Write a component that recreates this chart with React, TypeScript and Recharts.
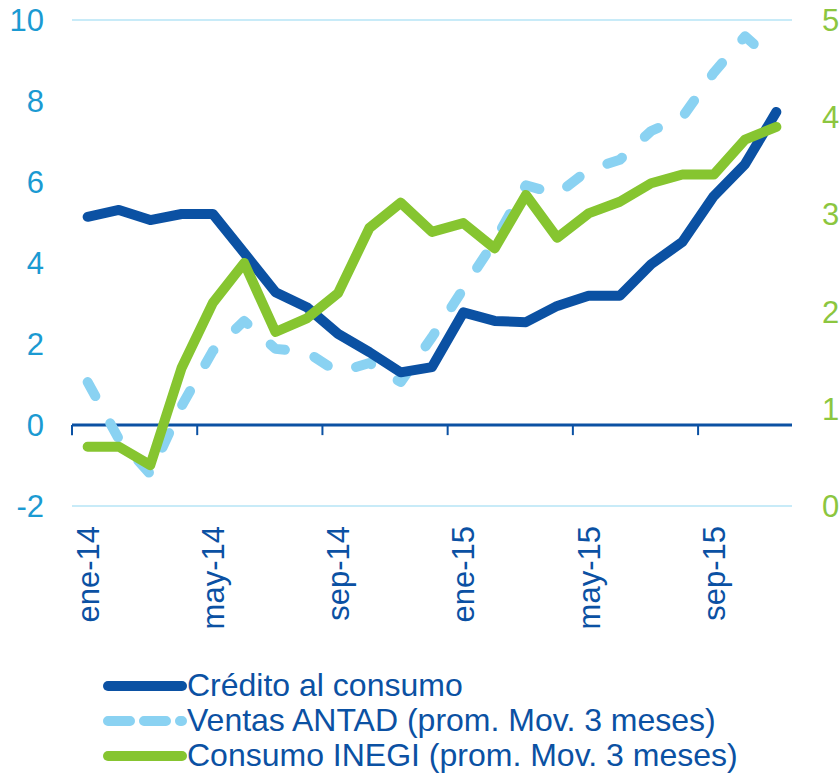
import React from "react";
import {
  LineChart,
  Line,
  XAxis,
  YAxis,
  CartesianGrid,
  ReferenceLine,
  Legend
} from 'recharts';

const months = [
  'ene-14', 'feb-14', 'mar-14', 'abr-14', 'may-14', 'jun-14', 'jul-14', 'ago-14',
  'sep-14', 'oct-14', 'nov-14', 'dic-14', 'ene-15', 'feb-15', 'mar-15', 'abr-15',
  'may-15', 'jun-15', 'jul-15', 'ago-15', 'sep-15', 'oct-15', 'nov-15'
];

const credito = [5.14, 5.31, 5.06, 5.21, 5.21, 4.25, 3.28, 2.91, 2.25, 1.8, 1.3, 1.43,
  2.78, 2.57, 2.54, 2.94, 3.19, 3.19, 3.97, 4.52, 5.65, 6.44, 7.73];

const ventas = [1.06, -0.35, -1.21, 0.47, 1.83, 2.57, 1.88, 1.8, 1.3, 1.53, 1.06, 2.17,
  3.36, 4.54, 5.92, 5.7, 6.3, 6.55, 7.26, 7.6, 8.7, 9.6, 8.9];

const consumo = [0.61, 0.61, 0.42, 1.42, 2.09, 2.5, 1.79, 1.93, 2.19, 2.86, 3.12, 2.82,
  2.91, 2.65, 3.2, 2.76, 3.01, 3.13, 3.32, 3.41, 3.41, 3.77, 3.9];

const xTicks = [0, 4, 8, 12, 16, 20];
const leftTicks = [-2, 0, 2, 4, 6, 8, 10];
const rightTicks = [0, 1, 2, 3, 4, 5];

const names = [
  'Crédito al consumo',
  'Ventas ANTAD (prom. Mov. 3 meses)',
  'Consumo INEGI (prom. Mov. 3 meses)'
];

const data = months.map((m, i) => ({
  idx: i,
  mes: m,
  credito: credito[i],
  ventas: ventas[i],
  consumo: consumo[i],
}));

const DARK = '#0b51a3';
const LIGHT = '#8ad2f2';
const GREEN = '#86c530';
const FONT = '"Liberation Sans", Arial, sans-serif';

const MonthTick = (props: any) => {
  const { x, y, payload } = props;
  return (
    <text
      x={x}
      y={y + 20}
      transform={`rotate(-90, ${x}, ${y + 20})`}
      textAnchor="end"
      dy="0.36em"
      fill={DARK}
      fontSize={31}
      fontFamily={FONT}
    >
      {months[payload.value]}
    </text>
  );
};

const LegendBox = () => {
  const styles = [
    { stroke: DARK, dash: undefined },
    { stroke: LIGHT, dash: '22 14' },
    { stroke: GREEN, dash: undefined },
  ];
  return (
    <div style={{ fontFamily: FONT, fontSize: 32, color: DARK }}>
      {names.map((n, i) => (
        <div key={n} style={{ display: 'flex', alignItems: 'center', height: 35, whiteSpace: 'nowrap' }}>
          <svg width={84} height={14} style={{ marginRight: 0 }}>
            <line x1={5} y1={7} x2={79} y2={7} stroke={styles[i].stroke} strokeWidth={10}
              strokeLinecap="round" strokeDasharray={styles[i].dash} />
          </svg>
          <span>{n}</span>
        </div>
      ))}
    </div>
  );
};

const App = () => {
  return (
    <div style={{ width: 839, height: 773 }}>
      <style>{`body { margin: 0; }`}</style>
      <LineChart width={839} height={773} data={data}
        margin={{ top: 20, right: 0, bottom: 0, left: 0 }}>
        <CartesianGrid vertical={false} stroke="#c8ebf8" strokeWidth={2} />
        <XAxis dataKey="idx" type="number" domain={[-0.5, 22.5]} ticks={xTicks}
          interval={0} axisLine={false} tickLine={false} tickSize={0} tickMargin={0}
          height={162} tick={<MonthTick />} />
        <YAxis yAxisId="left" domain={[-2, 10]} ticks={leftTicks} width={72}
          axisLine={false} tickLine={false} tickSize={0} tickMargin={28}
          tick={{ fill: '#1b9ad2', fontSize: 31, fontFamily: FONT }} />
        <YAxis yAxisId="right" orientation="right" domain={[0, 5]} ticks={rightTicks} width={47}
          axisLine={false} tickLine={false} tickSize={0} tickMargin={30}
          tick={{ fill: '#8cc63f', fontSize: 31, fontFamily: FONT, textAnchor: 'start' }} />
        <ReferenceLine yAxisId="left" y={0} stroke={DARK} strokeWidth={3} />
        {[-0.5, 3.5, 7.5, 11.5, 15.5, 19.5].map((b) => (
          <ReferenceLine key={b} yAxisId="left" stroke={DARK} strokeWidth={2}
            segment={[{ x: b, y: 0 }, { x: b, y: -0.25 }]} />
        ))}
        <Line yAxisId="left" dataKey="ventas" stroke={LIGHT} strokeWidth={10}
          strokeDasharray="16 31" strokeLinecap="round" strokeLinejoin="round"
          dot={false} activeDot={false} isAnimationActive={false} />
        <Line yAxisId="left" dataKey="credito" stroke={DARK} strokeWidth={10}
          strokeLinecap="round" strokeLinejoin="round"
          dot={false} activeDot={false} isAnimationActive={false} />
        <Line yAxisId="right" dataKey="consumo" stroke={GREEN} strokeWidth={10}
          strokeLinecap="round" strokeLinejoin="round"
          dot={false} activeDot={false} isAnimationActive={false} />
        <Legend layout="vertical" align="center" verticalAlign="bottom"
          content={<LegendBox />}
          wrapperStyle={{ top: 668, left: 103, width: 736, bottom: 'auto' }} />
      </LineChart>
    </div>
  );
};

export default App;
